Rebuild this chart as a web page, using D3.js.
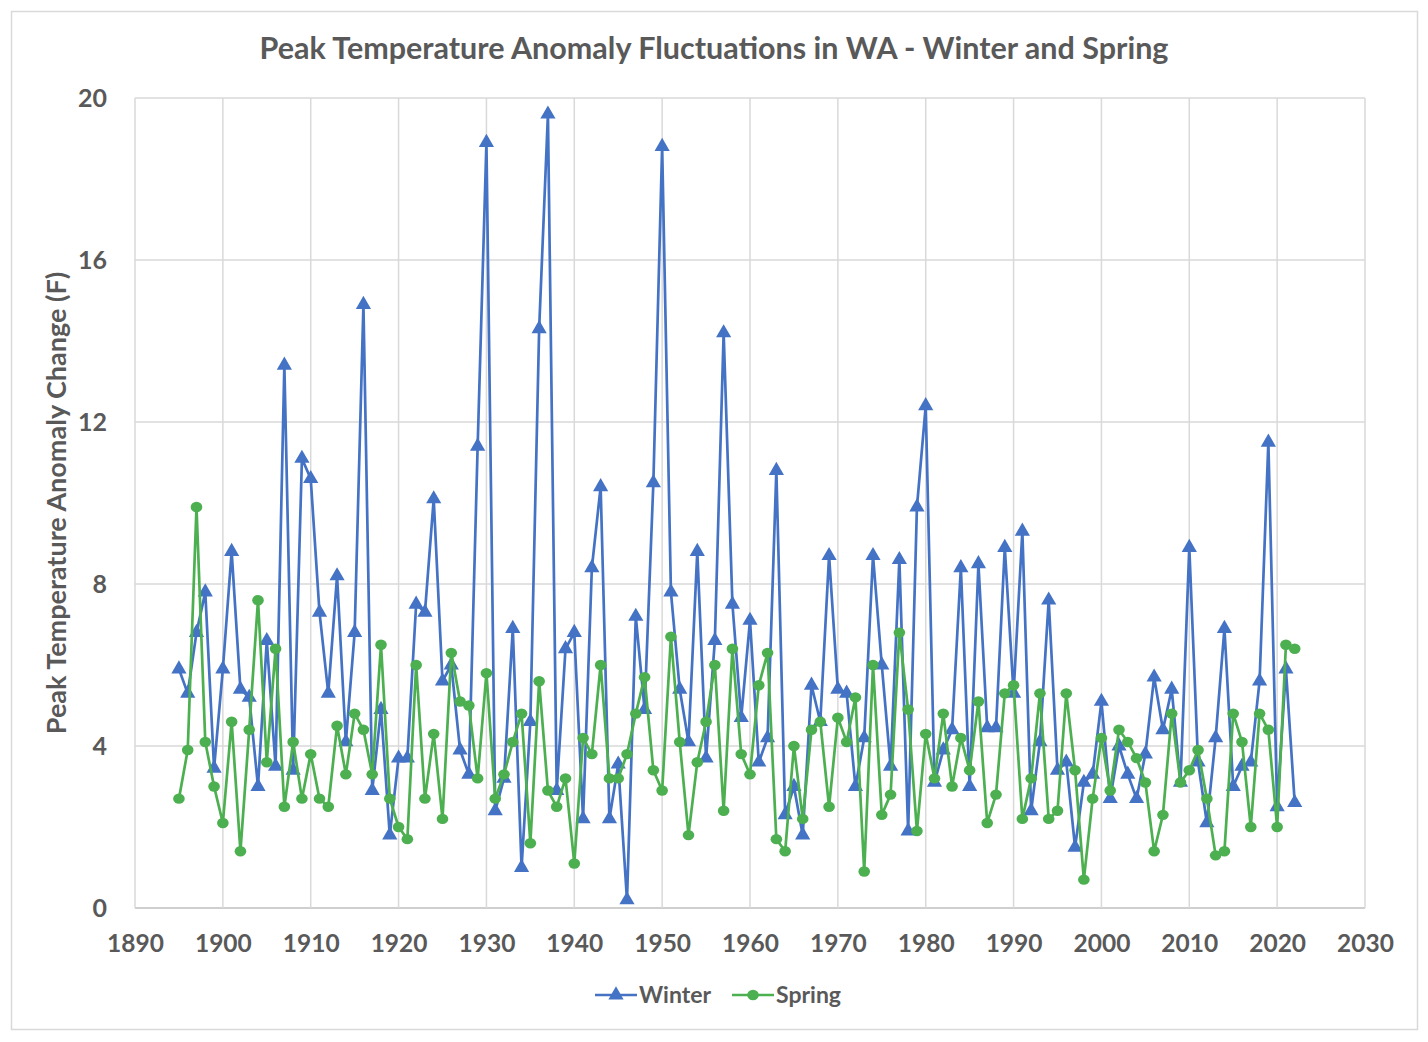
<!DOCTYPE html>
<html>
<head>
<meta charset="utf-8">
<script src="https://cdn.jsdelivr.net/npm/d3@7"></script>
<style>
  body { margin: 0; background: #fff; }
  svg text { font-family: Lato, "Open Sans", sans-serif; font-weight: bold; fill: #595959; }
</style>
</head>
<body>
<svg id="chart" width="1428" height="1042"></svg>
<script>
// years 1895 - 2022
const startYear = 1895;
const winter = [
  5.9, 5.3, 6.8, 7.8, 3.45, 5.9, 8.8, 5.4, 5.2, 3.0,
  6.6, 3.5, 13.4, 3.4, 11.1, 10.6, 7.3, 5.3, 8.2, 4.1,
  6.8, 14.9, 2.9, 4.9, 1.8, 3.7, 3.7, 7.5, 7.3, 10.1,
  5.6, 6.0, 3.9, 3.3, 11.4, 18.9, 2.4, 3.2, 6.9, 1.0,
  4.6, 14.3, 19.6, 2.9, 6.4, 6.8, 2.2, 8.4, 10.4, 2.2,
  3.55, 0.2, 7.2, 4.9, 10.5, 18.8, 7.8, 5.4, 4.1, 8.8,
  3.7, 6.6, 14.2, 7.5, 4.7, 7.1, 3.6, 4.2, 10.8, 2.3,
  3.0, 1.8, 5.5, 4.6, 8.7, 5.4, 5.3, 3.0, 4.2, 8.7,
  6.0, 3.5, 8.6, 1.9, 9.9, 12.4, 3.1, 3.9, 4.4, 8.4,
  3.0, 8.5, 4.45, 4.45, 8.9, 5.3, 9.3, 2.4, 4.1, 7.6,
  3.4, 3.6, 1.5, 3.1, 3.3, 5.1, 2.7, 4.0, 3.3, 2.7,
  3.8, 5.7, 4.4, 5.4, 3.1, 8.9, 3.6, 2.1, 4.2, 6.9,
  3.0, 3.5, 3.6, 5.6, 11.5, 2.5, 5.9, 2.6
];
const spring = [
  2.7, 3.9, 9.9, 4.1, 3.0, 2.1, 4.6, 1.4, 4.4, 7.6,
  3.6, 6.4, 2.5, 4.1, 2.7, 3.8, 2.7, 2.5, 4.5, 3.3,
  4.8, 4.4, 3.3, 6.5, 2.7, 2.0, 1.7, 6.0, 2.7, 4.3,
  2.2, 6.3, 5.1, 5.0, 3.2, 5.8, 2.7, 3.3, 4.1, 4.8,
  1.6, 5.6, 2.9, 2.5, 3.2, 1.1, 4.2, 3.8, 6.0, 3.2,
  3.2, 3.8, 4.8, 5.7, 3.4, 2.9, 6.7, 4.1, 1.8, 3.6,
  4.6, 6.0, 2.4, 6.4, 3.8, 3.3, 5.5, 6.3, 1.7, 1.4,
  4.0, 2.2, 4.4, 4.6, 2.5, 4.7, 4.1, 5.2, 0.9, 6.0,
  2.3, 2.8, 6.8, 4.9, 1.9, 4.3, 3.2, 4.8, 3.0, 4.2,
  3.4, 5.1, 2.1, 2.8, 5.3, 5.5, 2.2, 3.2, 5.3, 2.2,
  2.4, 5.3, 3.4, 0.7, 2.7, 4.2, 2.9, 4.4, 4.1, 3.7,
  3.1, 1.4, 2.3, 4.8, 3.1, 3.4, 3.9, 2.7, 1.3, 1.4,
  4.8, 4.1, 2.0, 4.8, 4.4, 2.0, 6.5, 6.4
];
const xTicks = d3.range(1890, 2031, 10);
const yTicks = [0, 4, 8, 12, 16, 20];
const seriesNames = ["Winter", "Spring"];
const seriesColors = ["#4472C4", "#4CAF50"];

const svg = d3.select("#chart");
const plotL = 135, plotR = 1365, plotT = 98, plotB = 908;

const x = d3.scaleLinear().domain([1890, 2030]).range([plotL, plotR]);
const y = d3.scaleLinear().domain([0, 20]).range([plotB, plotT]);

// chart border
svg.append("rect")
  .attr("x", 11.5).attr("y", 11.5)
  .attr("width", 1406).attr("height", 1018)
  .attr("fill", "#fff").attr("stroke", "#d9d9d9").attr("stroke-width", 1.5);

svg.append("text")
  .attr("x", 714).attr("y", 59)
  .attr("text-anchor", "middle")
  .style("font-size", "30.5px")
  .text("Peak Temperature Anomaly Fluctuations in WA - Winter and Spring");

// grid
svg.append("g").selectAll("line").data(yTicks).join("line")
  .attr("x1", plotL).attr("x2", plotR)
  .attr("y1", d => y(d)).attr("y2", d => y(d))
  .attr("stroke", d => d === 0 ? "#bfbfbf" : "#d9d9d9").attr("stroke-width", 1.5);
svg.append("g").selectAll("line").data(xTicks).join("line")
  .attr("x1", d => x(d)).attr("x2", d => x(d))
  .attr("y1", plotT).attr("y2", plotB)
  .attr("stroke", "#d9d9d9").attr("stroke-width", 1.5);

// axes
const yAxis = svg.append("g")
  .attr("transform", `translate(${plotL},0)`)
  .call(d3.axisLeft(y).tickValues(yTicks).tickSize(0).tickPadding(28));
yAxis.select(".domain").remove();
yAxis.selectAll("text").style("font-size", "25px").attr("dy", "0.35em");

const xAxis = svg.append("g")
  .attr("transform", `translate(0,${plotB})`)
  .call(d3.axisBottom(x).tickValues(xTicks).tickFormat(d3.format("d")).tickSize(0).tickPadding(27));
xAxis.select(".domain").remove();
xAxis.selectAll("text").style("font-size", "24.5px");

svg.append("text")
  .attr("transform", `translate(66,503) rotate(-90)`)
  .attr("text-anchor", "middle")
  .style("font-size", "27px")
  .text("Peak Temperature Anomaly Change (F)");

// series
const tri = d3.symbol().type(d3.symbolTriangle).size(100);
const dataSets = [winter, spring];

dataSets.forEach((vals, i) => {
  const pts = vals.map((v, j) => [startYear + j, v]);
  const g = svg.append("g");
  g.append("path")
    .datum(pts)
    .attr("fill", "none")
    .attr("stroke", seriesColors[i])
    .attr("stroke-width", 2.7)
    .attr("stroke-linejoin", "round")
    .attr("d", d3.line().x(d => x(d[0])).y(d => y(d[1])));
  if (i === 0) {
    g.selectAll("path.m").data(pts).join("path").attr("class", "m")
      .attr("transform", d => `translate(${x(d[0])},${y(d[1])})`)
      .attr("d", tri)
      .attr("fill", seriesColors[i]);
  } else {
    g.selectAll("ellipse").data(pts).join("ellipse")
      .attr("cx", d => x(d[0])).attr("cy", d => y(d[1]))
      .attr("rx", 5.8).attr("ry", 5.2)
      .attr("fill", seriesColors[i]);
  }
});

// legend
const legend = svg.append("g");
const legX = [595, 732];
seriesNames.forEach((name, i) => {
  const lg = legend.append("g").attr("transform", `translate(${legX[i]},995)`);
  lg.append("line").attr("x1", 0).attr("x2", 42)
    .attr("stroke", seriesColors[i]).attr("stroke-width", 2.7);
  if (i === 0) {
    lg.append("path").attr("transform", "translate(21,0)").attr("d", tri).attr("fill", seriesColors[i]);
  } else {
    lg.append("ellipse").attr("cx", 21).attr("rx", 5.8).attr("ry", 5.2).attr("fill", seriesColors[i]);
  }
  lg.append("text").attr("x", 44).attr("dy", "0.35em")
    .style("font-size", "23px").text(name);
});
</script>
</body>
</html>
